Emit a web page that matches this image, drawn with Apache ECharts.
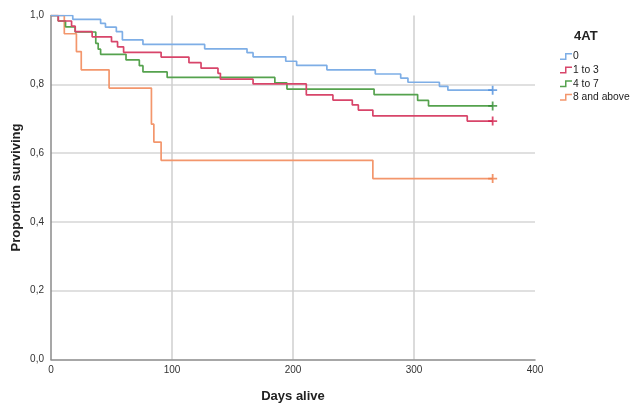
<!DOCTYPE html>
<html>
<head>
<meta charset="utf-8">
<script src="https://cdn.jsdelivr.net/npm/echarts@6/dist/echarts.min.js"></script>
<style>
  html, body { margin: 0; padding: 0; background: #fff; }
  #main { width: 630px; height: 404px; }
</style>
</head>
<body>
<div id="main"></div>
<script>
// 每组的生存曲线：[天数, 生存比例]
var groupNames = ['0', '1 to 3', '4 to 7', '8 and above'];
var group0 = [[0, 1], [18, 0.989], [41, 0.977], [45, 0.966], [54, 0.953], [59, 0.929], [76, 0.916],
    [127, 0.903], [162, 0.892], [167, 0.880], [194, 0.867], [203, 0.855], [228, 0.842], [268, 0.830],
    [289, 0.818], [295, 0.806], [321, 0.794], [328, 0.783], [365, 0.783]];
var group1 = [[0, 1], [6, 0.984], [17, 0.969], [20, 0.953], [34, 0.938], [50, 0.924], [55, 0.909],
    [60, 0.893], [91, 0.879], [114, 0.863], [124, 0.847], [138, 0.832], [140, 0.815], [167, 0.801],
    [211, 0.769], [233, 0.754], [249, 0.740], [254, 0.725], [266, 0.708], [344, 0.693], [365, 0.693]];
var group2 = [[0, 1], [6, 0.984], [12, 0.967], [20, 0.952], [37, 0.919], [39, 0.902], [41, 0.887],
    [62, 0.871], [73, 0.854], [76, 0.836], [96, 0.820], [185, 0.804], [195, 0.786], [267, 0.770],
    [303, 0.753], [312, 0.737], [365, 0.737]];
var group3 = [[0, 1], [11, 0.947], [21, 0.895], [25, 0.842], [48, 0.789], [83, 0.684], [85, 0.632],
    [91, 0.579], [266, 0.526], [365, 0.526]];
var lineColors = ['#7eaee6', '#d8456a', '#55a24e', '#f3966c'];
var markColors = ['#4f8fdc', '#d21f4c', '#2f8c2f', '#ef7a45'];
var xTicks = { min: 0, max: 400, step: 100 };
var yTicks = { min: 0, max: 1, step: 0.2 };

var groups = [group0, group1, group2, group3];
var myChart = echarts.init(document.getElementById('main'));

var series = [];
groups.forEach(function (g, i) {
    series.push({
        name: groupNames[i],
        type: 'line',
        step: 'end',
        showSymbol: false,
        lineStyle: { color: lineColors[i], width: 1.7 },
        itemStyle: { color: lineColors[i] },
        data: g,
        z: 3 + (3 - i)
    });
});
// 删失标记 +
groups.forEach(function (g, i) {
    series.push({
        type: 'scatter',
        symbol: 'path://M4,0 L6,0 L6,4 L10,4 L10,6 L6,6 L6,10 L4,10 L4,6 L0,6 L0,4 L4,4 Z',
        symbolSize: 9,
        itemStyle: { color: markColors[i] },
        data: [g[g.length - 1]],
        z: 10
    });
});

var option = {
    animation: false,
    title: {
        text: '4AT',
        left: 569,
        top: 25,
        textStyle: { fontFamily: 'Liberation Sans', fontSize: 13, fontWeight: 'bold', color: '#222' }
    },
    legend: {
        data: groupNames,
        orient: 'vertical',
        left: 555,
        top: 45,
        itemWidth: 12,
        itemHeight: 7,
        itemGap: 0.6,
        symbolKeepAspect: false,
        icon: 'path://M0,5.5 L5,5.5 L5,0 L12,0 L12,1.5 L6.5,1.5 L6.5,7 L0,7 Z',
        textStyle: { fontFamily: 'Liberation Sans', fontSize: 10.3, color: '#222', lineHeight: 13, padding: [0, 0, 0, -4] }
    },
    grid: { left: 51, right: 95, top: 15.5, bottom: 44.5, outerBoundsMode: 'none' },
    xAxis: {
        type: 'value',
        min: xTicks.min, max: xTicks.max, interval: xTicks.step,
        name: 'Days alive',
        nameLocation: 'middle',
        nameGap: 30,
        nameMoveOverlap: false,
        nameTextStyle: { fontFamily: 'Liberation Sans', fontSize: 13, fontWeight: 'bold', color: '#222' },
        axisLine: { lineStyle: { color: '#8a8a8a', width: 1.5 } },
        axisTick: { show: false },
        axisLabel: { fontFamily: 'Liberation Sans', fontSize: 10, color: '#333', margin: 6 },
        splitLine: { show: true, showMinLine: false, showMaxLine: false, lineStyle: { color: '#cfcfcf', width: 1.5 } }
    },
    yAxis: {
        type: 'value',
        min: yTicks.min, max: yTicks.max, interval: yTicks.step,
        name: 'Proportion surviving',
        nameLocation: 'middle',
        nameGap: 28,
        nameMoveOverlap: false,
        nameTextStyle: { fontFamily: 'Liberation Sans', fontSize: 13, fontWeight: 'bold', color: '#222' },
        axisLine: { show: true, lineStyle: { color: '#8a8a8a', width: 1.5 } },
        axisTick: { show: false },
        axisLabel: {
            fontFamily: 'Liberation Sans', fontSize: 10, color: '#333', margin: 7,
            formatter: function (v) { return v.toFixed(1).replace('.', ','); }
        },
        splitLine: { show: true, showMinLine: false, showMaxLine: false, lineStyle: { color: '#d6d6d6', width: 1.5 } }
    },
    series: series
};

myChart.setOption(option);
</script>
</body>
</html>
